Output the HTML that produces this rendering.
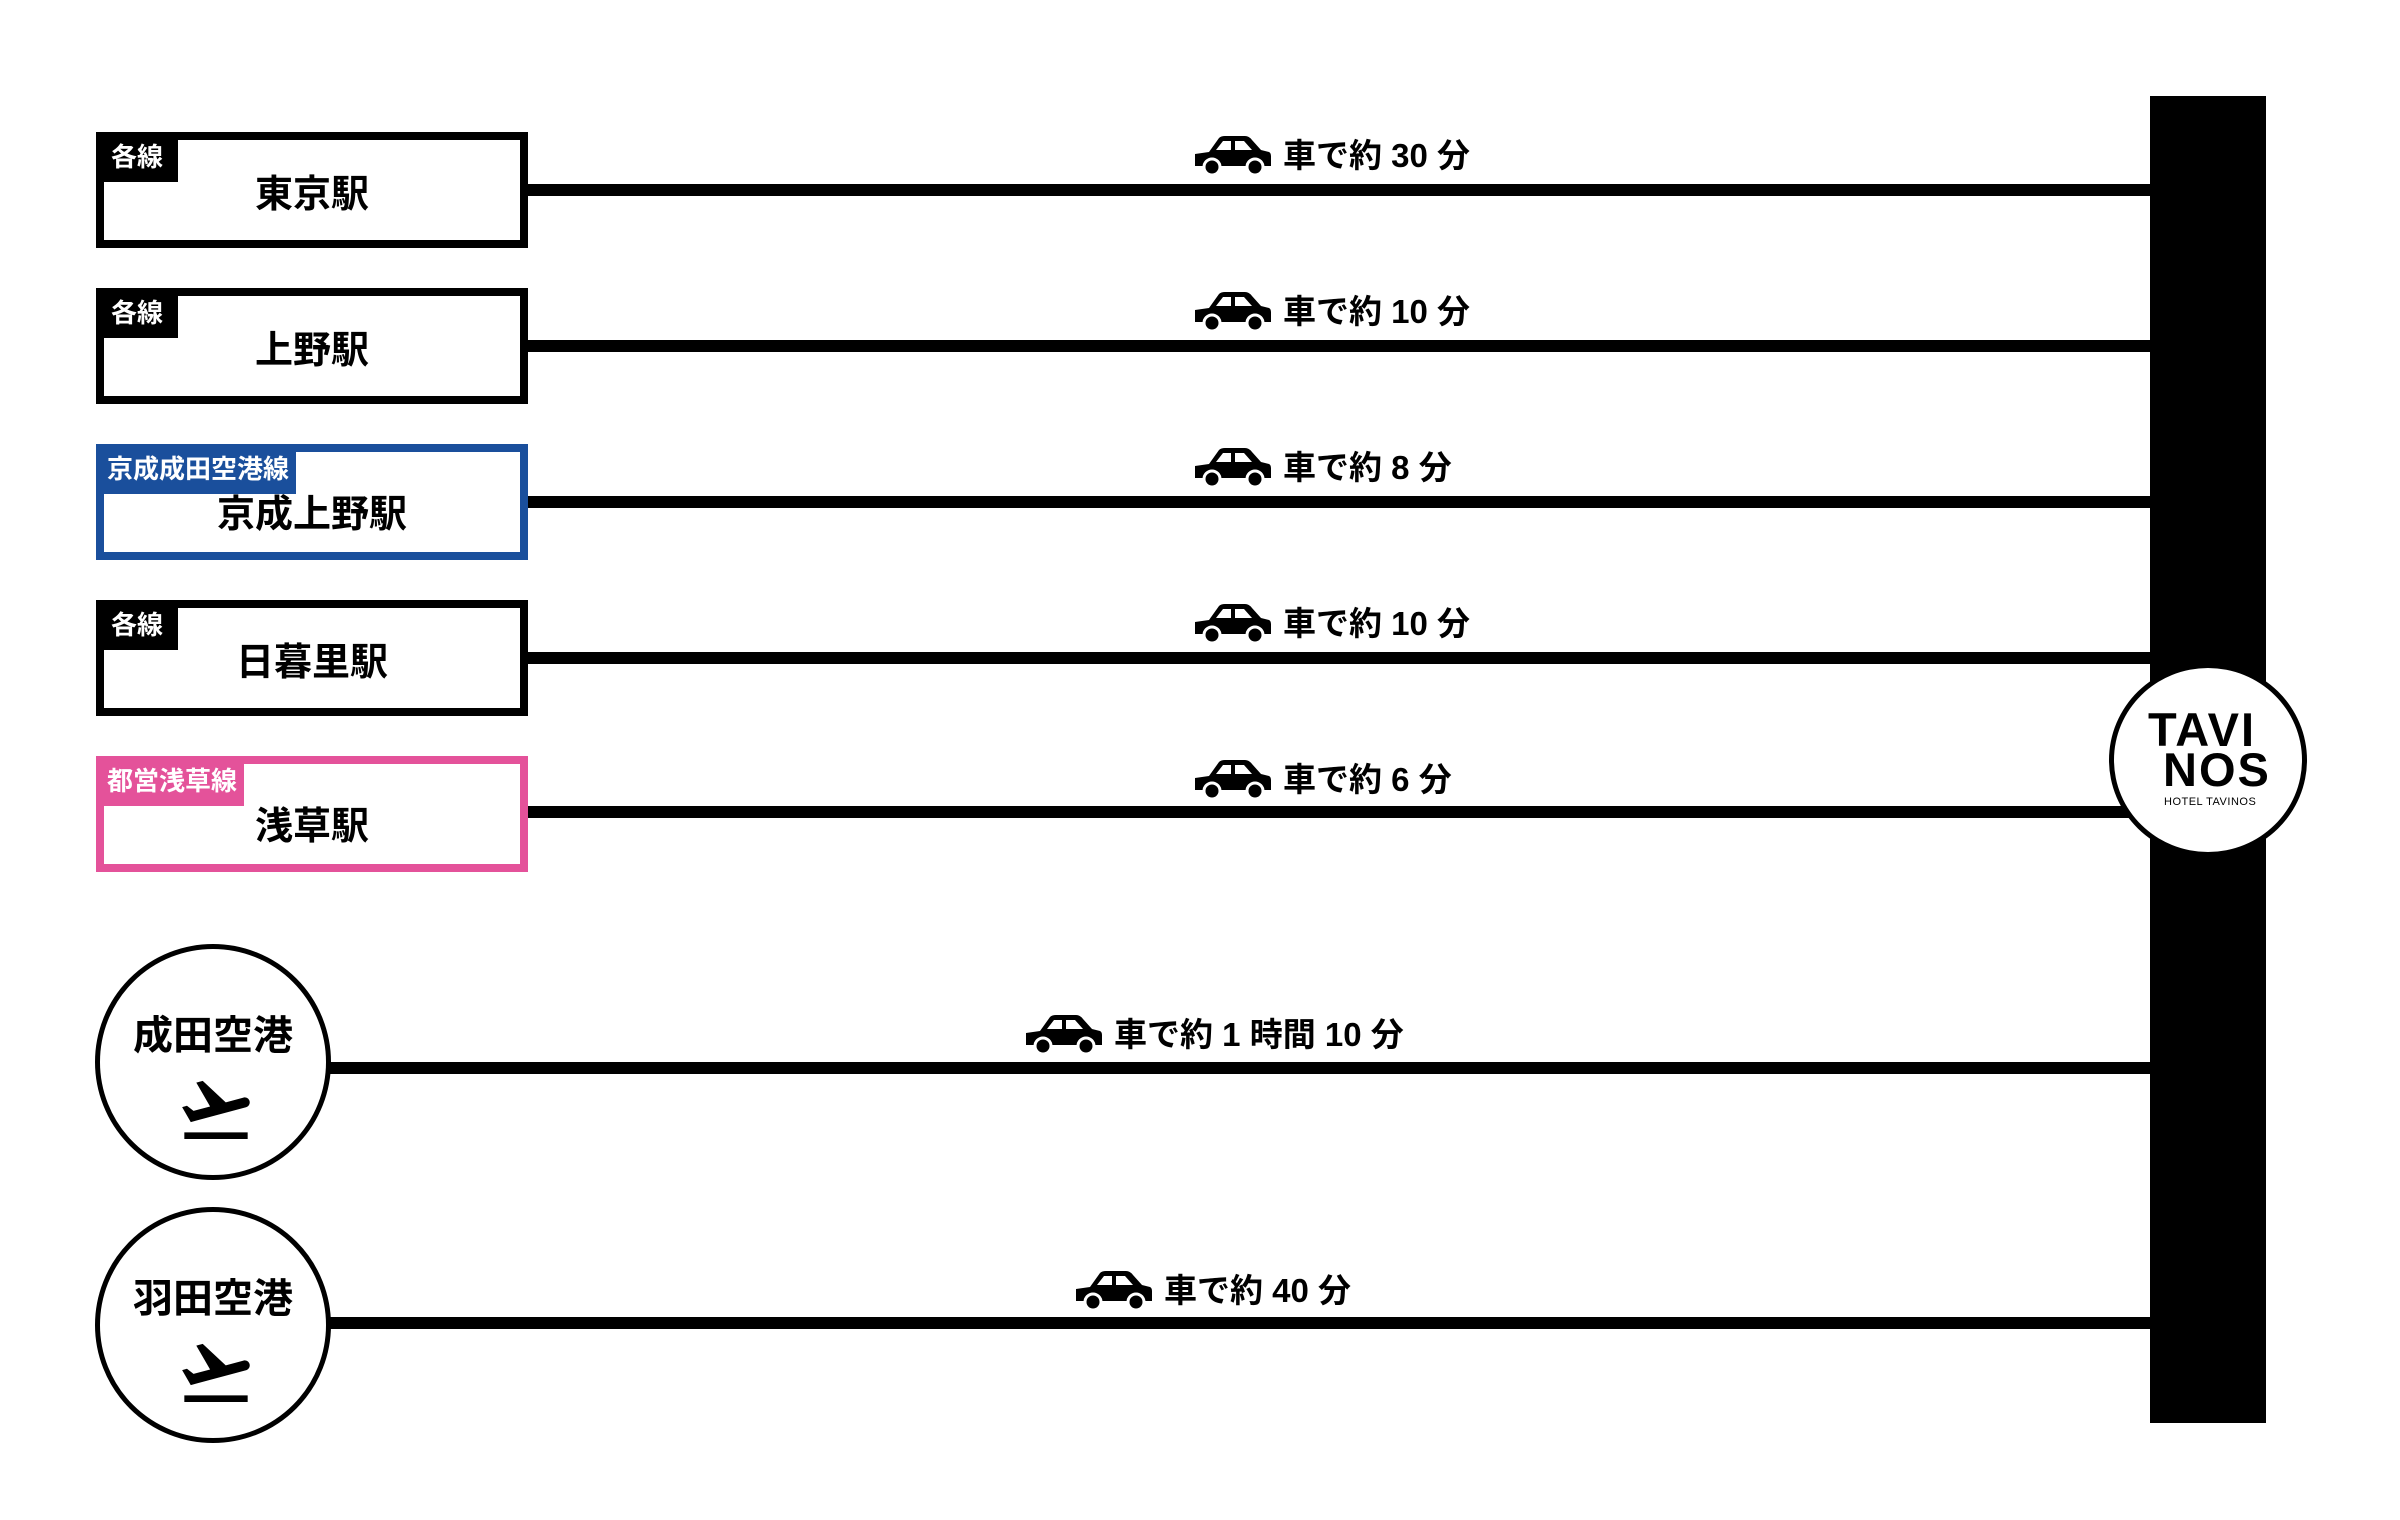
<!DOCTYPE html>
<html><head><meta charset="utf-8"><style>
body{margin:0;width:2400px;height:1520px;background:#fff;position:relative;overflow:hidden;font-family:"Liberation Sans","Noto Sans CJK JP",sans-serif;}
.a{position:absolute;}
.box{position:absolute;left:96px;width:432px;height:116px;box-sizing:border-box;border:8px solid #000;background:#fff;}
.tag{position:absolute;left:-8px;top:-8px;width:82px;height:50px;background:#000;color:#fff;font-size:26px;font-weight:700;line-height:50px;padding:0 0 0 15px;box-sizing:border-box;white-space:nowrap;overflow:hidden;}
.name{position:absolute;left:0;right:0;text-align:center;font-size:38px;font-weight:700;top:30px;line-height:50px;}
.line{position:absolute;height:12px;background:#000;}
.lbl{position:absolute;height:40px;font-size:33px;font-weight:700;line-height:40px;white-space:nowrap;}
.lbl svg{vertical-align:middle;margin-right:12px;position:relative;top:-3px;}
.circ{position:absolute;width:236px;height:236px;border:5px solid #000;border-radius:50%;box-sizing:border-box;background:#fff;}
</style></head><body>
<div class="line" style="left:520px;width:1640px;top:184px"></div>
<div class="line" style="left:520px;width:1640px;top:340px"></div>
<div class="line" style="left:520px;width:1640px;top:496px"></div>
<div class="line" style="left:520px;width:1640px;top:652px"></div>
<div class="line" style="left:520px;width:1640px;top:806px"></div>
<div class="line" style="left:320px;width:1840px;top:1062px"></div>
<div class="line" style="left:320px;width:1840px;top:1317px"></div>
<div class="a" style="left:2150px;top:96px;width:116px;height:1327px;background:#000"></div>
<div class="a" style="left:2109px;top:663px;width:198px;height:194px;border:5px solid #000;border-radius:50%;box-sizing:border-box;background:#fff"></div>
<div class="a" style="left:2148px;top:710px;font-size:47px;font-weight:700;line-height:40px;letter-spacing:2px;">TAVI<br>&nbsp;NOS</div>
<div class="a" style="left:2164px;top:796px;font-size:11px;letter-spacing:0.5px">HOTEL TAVINOS</div>

<div class="box" style="top:132px"><div class="tag">各線</div><div class="name">東京駅</div></div>
<div class="box" style="top:288px"><div class="tag">各線</div><div class="name">上野駅</div></div>
<div class="box" style="top:444px;border-color:#1a4f9c"><div class="tag" style="background:#1a4f9c;width:200px;padding-left:11px">京成成田空港線</div><div class="name" style="top:38px">京成上野駅</div></div>
<div class="box" style="top:600px"><div class="tag">各線</div><div class="name">日暮里駅</div></div>
<div class="box" style="top:756px;border-color:#e4529a"><div class="tag" style="background:#e4529a;width:148px;padding-left:11px">都営浅草線</div><div class="name" style="top:38px">浅草駅</div></div>

<div class="circ" style="left:95px;top:944px"><div class="a" style="left:0;right:0;top:54px;text-align:center;font-size:40px;font-weight:700">成田空港</div>
<svg class="a" style="left:76px;top:120px" width="80" height="80" viewBox="0 0 24 24"><path d="M2.5 19h19v2h-19zm19.57-9.36c-.21-.8-1.04-1.28-1.84-1.06L14.92 10l-6.9-6.43-1.93.51 4.14 7.17-4.97 1.33-1.97-1.54-1.45.39 1.82 3.16.77 1.33 1.6-.43 5.31-1.42 4.35-1.16L21 11.49c.81-.23 1.28-1.05 1.07-1.85z"/></svg></div>
<div class="circ" style="left:95px;top:1207px"><div class="a" style="left:0;right:0;top:54px;text-align:center;font-size:40px;font-weight:700">羽田空港</div>
<svg class="a" style="left:76px;top:120px" width="80" height="80" viewBox="0 0 24 24"><path d="M2.5 19h19v2h-19zm19.57-9.36c-.21-.8-1.04-1.28-1.84-1.06L14.92 10l-6.9-6.43-1.93.51 4.14 7.17-4.97 1.33-1.97-1.54-1.45.39 1.82 3.16.77 1.33 1.6-.43 5.31-1.42 4.35-1.16L21 11.49c.81-.23 1.28-1.05 1.07-1.85z"/></svg></div>

<div class="lbl" style="left:1195px;top:136px"><svg width="76" height="42" viewBox="0 0 76 42"><path d="M0 20 L14 18 L24 4 Q26 2 30 2 L50 2 Q54 2 57 6 L66 16 L74 18 Q76 19 76 22 L76 32 L0 32 Z" fill="#000"/><path d="M28 7 L36 7 L36 16 L21 16 Z M40 7 L49 7 L57 16 L40 16 Z" fill="#fff"/><circle cx="17" cy="33" r="8" fill="#000" stroke="#fff" stroke-width="3"/><circle cx="60" cy="33" r="8" fill="#000" stroke="#fff" stroke-width="3"/></svg>車で約 30 分</div>
<div class="lbl" style="left:1195px;top:292px"><svg width="76" height="42" viewBox="0 0 76 42"><path d="M0 20 L14 18 L24 4 Q26 2 30 2 L50 2 Q54 2 57 6 L66 16 L74 18 Q76 19 76 22 L76 32 L0 32 Z" fill="#000"/><path d="M28 7 L36 7 L36 16 L21 16 Z M40 7 L49 7 L57 16 L40 16 Z" fill="#fff"/><circle cx="17" cy="33" r="8" fill="#000" stroke="#fff" stroke-width="3"/><circle cx="60" cy="33" r="8" fill="#000" stroke="#fff" stroke-width="3"/></svg>車で約 10 分</div>
<div class="lbl" style="left:1195px;top:448px"><svg width="76" height="42" viewBox="0 0 76 42"><path d="M0 20 L14 18 L24 4 Q26 2 30 2 L50 2 Q54 2 57 6 L66 16 L74 18 Q76 19 76 22 L76 32 L0 32 Z" fill="#000"/><path d="M28 7 L36 7 L36 16 L21 16 Z M40 7 L49 7 L57 16 L40 16 Z" fill="#fff"/><circle cx="17" cy="33" r="8" fill="#000" stroke="#fff" stroke-width="3"/><circle cx="60" cy="33" r="8" fill="#000" stroke="#fff" stroke-width="3"/></svg>車で約 8 分</div>
<div class="lbl" style="left:1195px;top:604px"><svg width="76" height="42" viewBox="0 0 76 42"><path d="M0 20 L14 18 L24 4 Q26 2 30 2 L50 2 Q54 2 57 6 L66 16 L74 18 Q76 19 76 22 L76 32 L0 32 Z" fill="#000"/><path d="M28 7 L36 7 L36 16 L21 16 Z M40 7 L49 7 L57 16 L40 16 Z" fill="#fff"/><circle cx="17" cy="33" r="8" fill="#000" stroke="#fff" stroke-width="3"/><circle cx="60" cy="33" r="8" fill="#000" stroke="#fff" stroke-width="3"/></svg>車で約 10 分</div>
<div class="lbl" style="left:1195px;top:760px"><svg width="76" height="42" viewBox="0 0 76 42"><path d="M0 20 L14 18 L24 4 Q26 2 30 2 L50 2 Q54 2 57 6 L66 16 L74 18 Q76 19 76 22 L76 32 L0 32 Z" fill="#000"/><path d="M28 7 L36 7 L36 16 L21 16 Z M40 7 L49 7 L57 16 L40 16 Z" fill="#fff"/><circle cx="17" cy="33" r="8" fill="#000" stroke="#fff" stroke-width="3"/><circle cx="60" cy="33" r="8" fill="#000" stroke="#fff" stroke-width="3"/></svg>車で約 6 分</div>
<div class="lbl" style="left:1026px;top:1015px"><svg width="76" height="42" viewBox="0 0 76 42"><path d="M0 20 L14 18 L24 4 Q26 2 30 2 L50 2 Q54 2 57 6 L66 16 L74 18 Q76 19 76 22 L76 32 L0 32 Z" fill="#000"/><path d="M28 7 L36 7 L36 16 L21 16 Z M40 7 L49 7 L57 16 L40 16 Z" fill="#fff"/><circle cx="17" cy="33" r="8" fill="#000" stroke="#fff" stroke-width="3"/><circle cx="60" cy="33" r="8" fill="#000" stroke="#fff" stroke-width="3"/></svg>車で約 1 時間 10 分</div>
<div class="lbl" style="left:1076px;top:1271px"><svg width="76" height="42" viewBox="0 0 76 42"><path d="M0 20 L14 18 L24 4 Q26 2 30 2 L50 2 Q54 2 57 6 L66 16 L74 18 Q76 19 76 22 L76 32 L0 32 Z" fill="#000"/><path d="M28 7 L36 7 L36 16 L21 16 Z M40 7 L49 7 L57 16 L40 16 Z" fill="#fff"/><circle cx="17" cy="33" r="8" fill="#000" stroke="#fff" stroke-width="3"/><circle cx="60" cy="33" r="8" fill="#000" stroke="#fff" stroke-width="3"/></svg>車で約 40 分</div>
</body></html>
